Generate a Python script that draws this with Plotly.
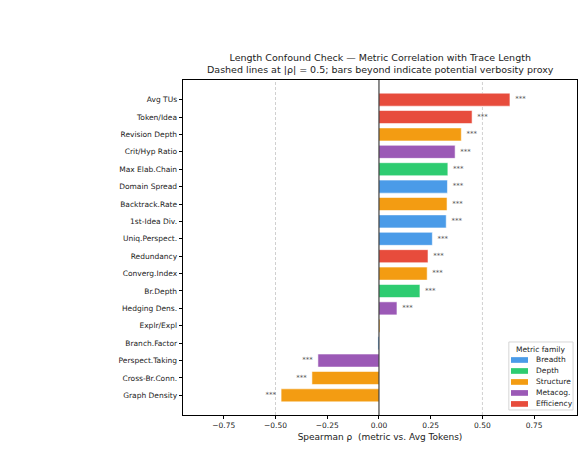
import plotly.graph_objects as go

metrics = ["Avg TUs", "Token/Idea", "Revision Depth", "Crit/Hyp Ratio", "Max Elab.Chain",
           "Domain Spread", "Backtrack.Rate", "1st-Idea Div.", "Uniq.Perspect.", "Redundancy",
           "Converg.Index", "Br.Depth", "Hedging Dens.", "Explr/Expl", "Branch.Factor",
           "Perspect.Taking", "Cross-Br.Conn.", "Graph Density"]
rho = [0.633, 0.450, 0.398, 0.368, 0.333, 0.331, 0.329, 0.325, 0.258, 0.237,
       0.233, 0.198, 0.087, 0.005, -0.005, -0.295, -0.324, -0.473]
family = ["Efficiency", "Efficiency", "Structure", "Metacog.", "Depth",
          "Breadth", "Structure", "Breadth", "Breadth", "Efficiency",
          "Structure", "Depth", "Metacog.", "Structure", "Breadth",
          "Metacog.", "Structure", "Structure"]
stars = ["***", "***", "***", "***", "***", "***", "***", "***", "***", "***",
         "***", "***", "***", "", "", "***", "***", "***"]
families = ["Breadth", "Depth", "Structure", "Metacog.", "Efficiency"]
colors = {"Breadth": "#4A9BE8", "Depth": "#2ECC71", "Structure": "#F39C12",
          "Metacog.": "#9B59B6", "Efficiency": "#E74C3C"}

FONT = "DejaVu Sans"
fig = go.Figure()
for fam in families:
    ys = [m for m, f in zip(metrics, family) if f == fam]
    xs = [v for v, f in zip(rho, family) if f == fam]
    fig.add_trace(go.Bar(
        x=xs, y=ys, orientation="h", name=fam, width=0.75,
        marker=dict(color=colors[fam], line=dict(color="rgba(255,255,255,0.7)", width=0.8)),
        showlegend=False,
    ))

pos = [(m, v, s) for m, v, s in zip(metrics, rho, stars) if s and v >= 0]
neg = [(m, v, s) for m, v, s in zip(metrics, rho, stars) if s and v < 0]
fig.add_trace(go.Scatter(
    x=[v + 0.025 for m, v, s in pos], y=[m for m, v, s in pos], text=[s for m, v, s in pos],
    mode="text", textposition="middle right", textfont=dict(size=7, color="#555555", family=FONT),
    showlegend=False, hoverinfo="skip"))
fig.add_trace(go.Scatter(
    x=[v - 0.025 for m, v, s in neg], y=[m for m, v, s in neg], text=[s for m, v, s in neg],
    mode="text", textposition="middle left", textfont=dict(size=7, color="#555555", family=FONT),
    showlegend=False, hoverinfo="skip"))

for xv in [-0.5, 0.5]:
    fig.add_vline(x=xv, line=dict(color="#BBBBBB", width=0.7, dash="3px,2px"), layer="below")
fig.add_vline(x=0, line=dict(color="black", width=0.9))

# Title as annotation
fig.add_annotation(
    text="Length Confound Check — Metric Correlation with Trace Length<br>"
         "Dashed lines at |ρ| = 0.5; bars beyond indicate potential verbosity proxy",
    xref="paper", yref="paper", x=0.5, y=1, xanchor="center", yanchor="bottom",
    yshift=3, showarrow=False, font=dict(size=9.5, family=FONT, color="#222222"))

# Custom legend (matplotlib style)
lx0, lx1, ly0, ly1 = 0.827, 0.990, 0.015, 0.218
fig.add_shape(type="rect", xref="paper", yref="paper", x0=lx0, x1=lx1, y0=ly0, y1=ly1,
              line=dict(color="#CCCCCC", width=0.8), fillcolor="rgba(255,255,255,0.85)", layer="above")
fig.add_annotation(text="Metric family", xref="paper", yref="paper", x=(lx0 + lx1) / 2, y=0.197,
                   xanchor="center", yanchor="middle", showarrow=False,
                   font=dict(size=7.5, family=FONT, color="#222222"))
step = 0.0328
for i, fam in enumerate(families):
    yc = 0.1642 - i * step
    fig.add_shape(type="rect", xref="paper", yref="paper", x0=0.8325, x1=0.8756,
                  y0=yc - 0.0085, y1=yc + 0.0085, line=dict(width=0),
                  fillcolor=colors[fam], layer="above")
    fig.add_annotation(text=fam, xref="paper", yref="paper", x=0.890, y=yc,
                       xanchor="left", yanchor="middle", showarrow=False,
                       font=dict(size=7.5, family=FONT, color="#222222"))

fig.update_layout(
    width=584, height=450,
    margin=dict(l=183, r=7, t=80, b=35),
    plot_bgcolor="white", paper_bgcolor="white",
    barmode="overlay", showlegend=False,
    font=dict(family=FONT, size=7.5, color="#222222"),
    xaxis=dict(
        range=[-0.947, 0.957], tickvals=[-0.75, -0.5, -0.25, 0, 0.25, 0.5, 0.75],
        tickformat=".2f", showgrid=False, zeroline=False,
        ticks="outside", ticklen=3.5, tickcolor="black", tickwidth=0.8,
        showline=True, linecolor="black", linewidth=0.8, mirror=True,
        title=dict(text="Spearman ρ  (metric vs. Avg Tokens)", font=dict(size=9, family=FONT), standoff=4),
        tickfont=dict(size=7.5)),
    yaxis=dict(
        type="category", categoryorder="array", categoryarray=metrics[::-1],
        range=[-1.13, len(metrics) - 1 + 1.13], showgrid=False, zeroline=False,
        ticks="outside", ticklen=3.5, tickcolor="black", tickwidth=0.8,
        showline=True, linecolor="black", linewidth=0.8, mirror=True,
        tickfont=dict(size=7.5)),
)

fig.write_html("out.html")
